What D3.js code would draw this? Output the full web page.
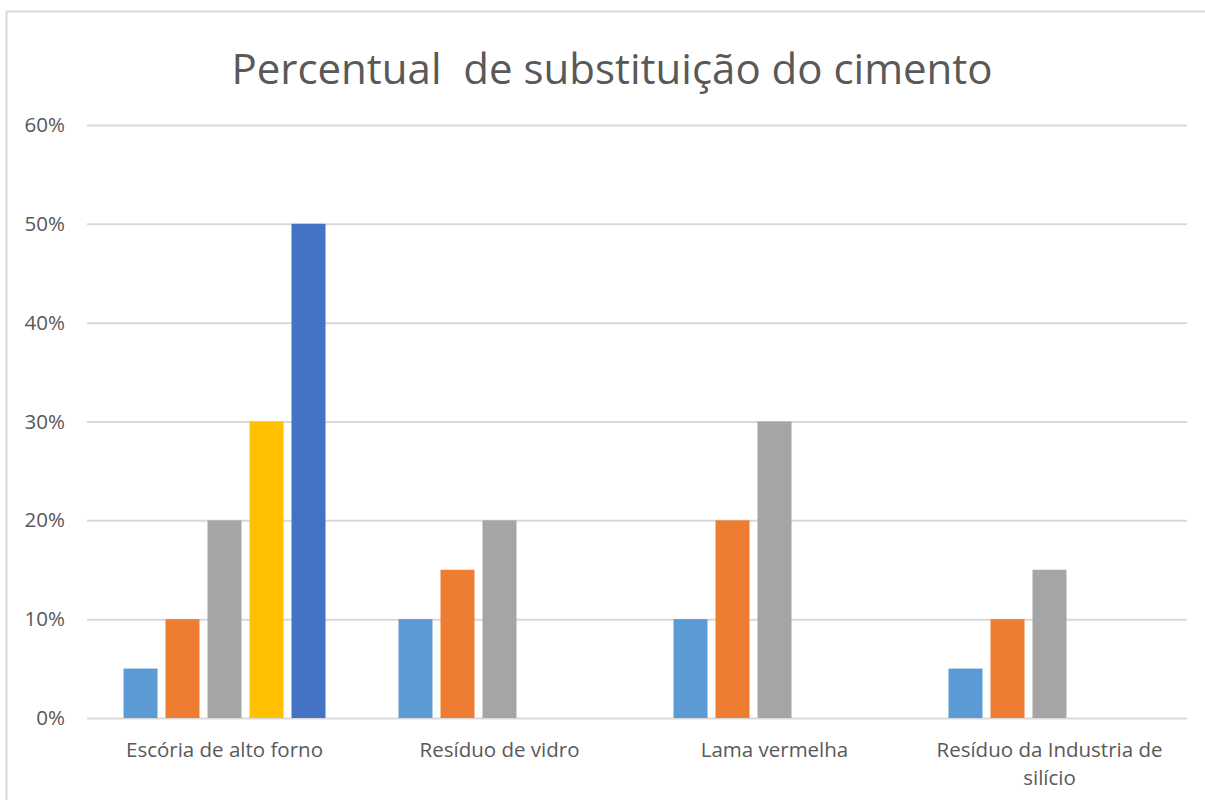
<!DOCTYPE html>
<html>
<head>
<meta charset="utf-8">
<script src="https://cdn.jsdelivr.net/npm/d3@7"></script>
<style>
  body { margin: 0; background: #fff; }
  svg { display: block; }
</style>
</head>
<body>
<div id="chart"></div>
<script>
// Data
const categories = ["Escória de alto forno", "Resíduo de vidro", "Lama vermelha", "Resíduo da Industria de silício"];
const seriesNames = ["S1", "S2", "S3", "S4", "S5"];
const seriesValues = [
  [0.05, 0.10, 0.10, 0.05],
  [0.10, 0.15, 0.20, 0.10],
  [0.20, 0.20, 0.30, 0.15],
  [0.30, null, null, null],
  [0.50, null, null, null]
];
const seriesColors = ["#5B9BD5", "#ED7D31", "#A5A5A5", "#FFC000", "#4472C4"];
const yTicks = [0, 0.1, 0.2, 0.3, 0.4, 0.5, 0.6];

const width = 1205, height = 800;
const margin = { top: 125, right: 18, bottom: 82, left: 87 };

const svg = d3.select("#chart").append("svg")
  .attr("width", width)
  .attr("height", height);

// Chart border
svg.append("rect")
  .attr("x", 6.5).attr("y", 11.5)
  .attr("width", 1205).attr("height", 800)
  .attr("fill", "none")
  .attr("stroke", "#D9D9D9")
  .attr("stroke-width", 2);

// Title
svg.append("text")
  .attr("x", 612)
  .attr("y", 84)
  .attr("text-anchor", "middle")
  .attr("xml:space", "preserve")
  .style("font-family", "'Open Sans', sans-serif")
  .style("font-size", "42px")
  .style("fill", "#595959")
  .text("Percentual  de substituição do cimento");

const x0 = d3.scaleBand()
  .domain(categories)
  .range([margin.left, width - margin.right]);

const x1 = d3.scaleBand()
  .domain(seriesNames)
  .range([36.5, x0.bandwidth() - 36.5])
  .paddingInner(8 / 42);

const y = d3.scaleLinear()
  .domain([0, 0.6])
  .range([height - margin.bottom, margin.top]);

// Gridlines + y labels
const yAxis = svg.append("g")
  .attr("transform", `translate(${margin.left},0)`)
  .call(d3.axisLeft(y).tickValues(yTicks).tickFormat(d3.format(".0%")).tickSize(-(width - margin.left - margin.right)).tickPadding(22));
yAxis.select(".domain").remove();
yAxis.selectAll("line").attr("stroke", "#D9D9D9").attr("stroke-width", 2);
yAxis.selectAll("text")
  .style("font-family", "'Open Sans', sans-serif")
  .style("font-size", "20.5px")
  .style("fill", "#595959");

// Bars
const groups = svg.append("g").selectAll("g")
  .data(categories)
  .join("g")
  .attr("transform", d => `translate(${x0(d)},0)`);

groups.selectAll("rect")
  .data((c, ci) => seriesNames.map((s, si) => ({ s, si, v: seriesValues[si][ci] })).filter(d => d.v != null))
  .join("rect")
  .attr("x", d => x1(d.s))
  .attr("width", x1.bandwidth())
  .attr("y", d => y(d.v))
  .attr("height", d => y(0) - y(d.v))
  .attr("fill", d => seriesColors[d.si]);

// Category labels (wrapped)
function wrapLines(label) {
  if (label === "Resíduo da Industria de silício") return ["Resíduo da Industria de", "silício"];
  return [label];
}
const xl = svg.append("g").selectAll("text")
  .data(categories)
  .join("text")
  .attr("y", 757)
  .attr("text-anchor", "middle")
  .style("font-family", "'Open Sans', sans-serif")
  .style("font-size", "20.5px")
  .style("fill", "#595959");
xl.selectAll("tspan")
  .data(d => wrapLines(d).map((t, i) => ({ t, i, c: d })))
  .join("tspan")
  .attr("x", d => x0(d.c) + x0.bandwidth() / 2)
  .attr("dy", d => d.i === 0 ? 0 : 28)
  .text(d => d.t);
</script>
</body>
</html>
